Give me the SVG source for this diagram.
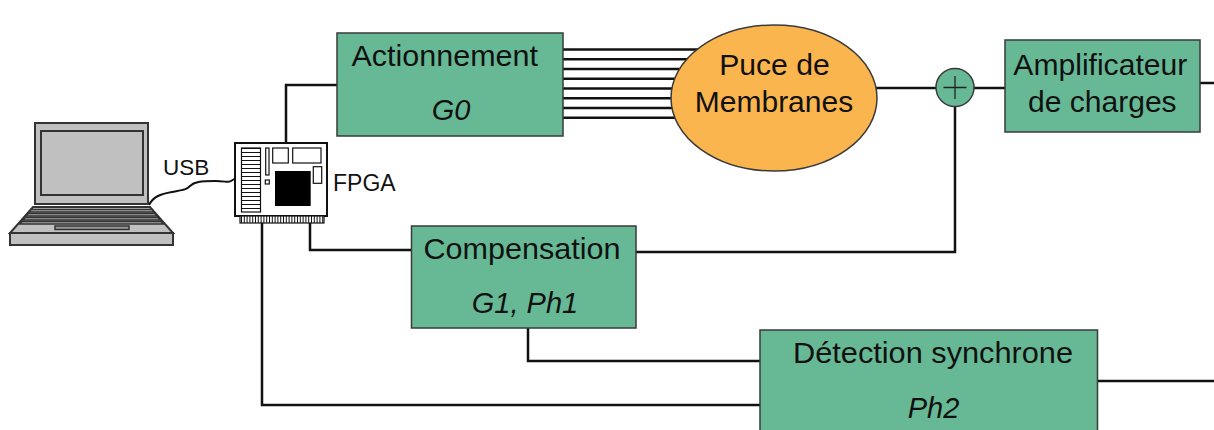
<svg xmlns="http://www.w3.org/2000/svg" width="1214" height="430" viewBox="0 0 1214 430">
  <style>
    .blk { fill: #67B996; stroke: #3a3a3a; stroke-width: 1.5; }
    .lbl { font-family: "Liberation Sans", Arial, sans-serif; font-size: 29px; fill: #111; }
    .it { font-style: italic; }
    .wire { fill: none; stroke: #111; stroke-width: 2.5; }
    .bus { fill: none; stroke: #111; stroke-width: 2.4; }
    .gray { fill: #C0C0C0; stroke: #333; stroke-width: 2; }
    .small { font-family: "Liberation Sans", Arial, sans-serif; font-size: 22px; fill: #111; }
  </style>
  <rect width="1214" height="430" fill="#fff"/>

  <!-- connectors -->
  <g id="connectors">
    <path class="wire" d="M286,143 V85 H337"/>
    <path class="wire" d="M310,223 V250 H411"/>
    <path class="wire" d="M262,223 V405 H760"/>
    <path class="wire" d="M528,328 V361 H760"/>
    <path class="wire" d="M636,252 H955 V106"/>
    <path class="wire" d="M876,88 H936"/>
    <path class="wire" d="M974,88 H1005"/>
    <path class="wire" d="M1200,83 H1214"/>
    <path class="wire" d="M1097,381 H1214"/>
    <!-- parallel actuator lines into the chip -->
    <g class="bus">
      <line x1="563" y1="49.5" x2="760" y2="49.5"/>
      <line x1="563" y1="59.3" x2="760" y2="59.3"/>
      <line x1="563" y1="69" x2="760" y2="69"/>
      <line x1="563" y1="78.8" x2="760" y2="78.8"/>
      <line x1="563" y1="88.5" x2="760" y2="88.5"/>
      <line x1="563" y1="98.3" x2="760" y2="98.3"/>
      <line x1="563" y1="108" x2="760" y2="108"/>
      <line x1="563" y1="117.8" x2="760" y2="117.8"/>
    </g>
    <!-- USB cable -->
    <path d="M149,205 C153,197 160,194 172,192 C183,190 186,190 190,186 C194,182 200,181 215,181 C226,181 228,183 231,181 L236,178" fill="none" stroke="#111" stroke-width="2"/>
  </g>

  <!-- computer -->
  <g id="laptop">
    <rect class="gray" x="35" y="123" width="113" height="81"/>
    <rect class="gray" x="41" y="131" width="102" height="64" stroke-width="1.5"/>
    <polygon class="gray" points="33,207 150,207 173,233 10,233"/>
    <rect class="gray" x="10" y="233" width="163" height="12"/>
    <g stroke="#333" stroke-width="1.5" fill="#aaa">
      <polygon points="31,209.5 152,209.5 154,212 29,212"/>
      <polygon points="28,213.5 155,213.5 157,216 26,216"/>
      <polygon points="25,217.5 158,217.5 160,220 23,220"/>
      <polygon points="22,221.5 161,221.5 163,224 20,224"/>
    </g>
    <rect x="55" y="226" width="74" height="3.5" fill="#999" stroke="#333" stroke-width="1.5"/>
    <text class="small" x="163" y="175" style="font-size:22.5px">USB</text>
  </g>

  <!-- FPGA board -->
  <g id="fpga">
    <rect x="235" y="143" width="92" height="73" fill="#fff" stroke="#111" stroke-width="2"/>
    <rect x="240" y="216" width="84" height="7" fill="#fff" stroke="#111" stroke-width="1.2"/>
    <line x1="241" y1="219.5" x2="324" y2="219.5" stroke="#111" stroke-width="7" stroke-dasharray="1 1.8"/>
    <rect x="241.5" y="148" width="19" height="64" fill="#fff" stroke="#111" stroke-width="1.2"/>
    <line x1="251" y1="148" x2="251" y2="212" stroke="#111" stroke-width="19" stroke-dasharray="1 3"/>
    <rect x="265.7" y="148" width="3.3" height="27" fill="#fff" stroke="#111" stroke-width="1.2"/>
    <rect x="265.3" y="180" width="4" height="4" fill="#fff" stroke="#111" stroke-width="1.2"/>
    <rect x="272.7" y="148" width="15.6" height="15" fill="#fff" stroke="#111" stroke-width="1.2"/>
    <rect x="292.7" y="148" width="28.3" height="15" fill="#fff" stroke="#111" stroke-width="1.2"/>
    <rect x="275" y="171" width="35.7" height="35" fill="#000"/>
    <rect x="313.3" y="166.7" width="8.4" height="16.6" fill="#fff" stroke="#111" stroke-width="1.2"/>
    <text class="small" x="333" y="191" style="font-size:23px">FPGA</text>
  </g>

  <g id="actionnement">
    <rect class="blk" x="337" y="33" width="226" height="103"/>
    <text class="lbl" x="351.5" y="65.7" textLength="186.5" lengthAdjust="spacingAndGlyphs">Actionnement</text>
    <text class="lbl it" x="451" y="120" text-anchor="middle">G0</text>
  </g>

  <g id="puce">
    <ellipse cx="774" cy="98" rx="103" ry="73" fill="#FAB54F" stroke="#3a3a3a" stroke-width="1.5"/>
    <text class="lbl" x="774.5" y="75" text-anchor="middle" textLength="110.7" lengthAdjust="spacingAndGlyphs">Puce de</text>
    <text class="lbl" x="774" y="111.7" text-anchor="middle" textLength="158.3" lengthAdjust="spacingAndGlyphs">Membranes</text>
  </g>

  <g id="sommateur">
    <circle cx="955" cy="87.5" r="19" fill="#67B996" stroke="#3a3a3a" stroke-width="1.5"/>
    <path d="M943.5,87.5 H966.5 M955,76 V99" stroke="#222" stroke-width="1.3" fill="none"/>
  </g>

  <g id="amplificateur">
    <rect class="blk" x="1005" y="40" width="195" height="92"/>
    <text class="lbl" x="1100.3" y="75" text-anchor="middle" textLength="174" lengthAdjust="spacingAndGlyphs">Amplificateur</text>
    <text class="lbl" x="1102.3" y="111.7" text-anchor="middle" textLength="148.7" lengthAdjust="spacingAndGlyphs">de charges</text>
  </g>

  <g id="compensation">
    <rect class="blk" x="411.5" y="226" width="224.5" height="102"/>
    <text class="lbl" x="522" y="259" text-anchor="middle" textLength="197" lengthAdjust="spacingAndGlyphs">Compensation</text>
    <text class="lbl it" x="525" y="313" text-anchor="middle">G1, Ph1</text>
  </g>

  <g id="detection">
    <rect class="blk" x="760" y="330" width="337.5" height="110"/>
    <text class="lbl" x="933" y="362.7" text-anchor="middle" textLength="280" lengthAdjust="spacingAndGlyphs">Détection synchrone</text>
    <text class="lbl it" x="933.5" y="418" text-anchor="middle">Ph2</text>
  </g>
</svg>
